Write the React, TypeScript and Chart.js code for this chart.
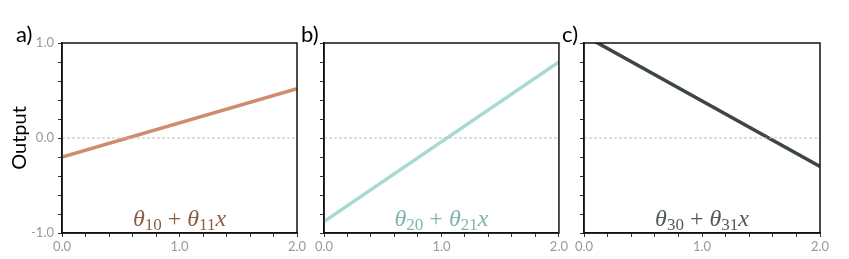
import React, { useEffect, useRef } from 'react';
import { Chart, registerables } from 'chart.js';
Chart.register(...registerables);

const xValues = [0, 2];
const seriesA = [-0.2, 0.52];
const seriesB = [-0.88, 0.8];
const seriesC = [1.08, -0.3];
const zeroLine = [0, 0];
const panelLabels = ['a)', 'b)', 'c)'];
const equationIndices = [
  ['10', '11'],
  ['20', '21'],
  ['30', '31'],
];
const xTickLabels = ['0.0', '1.0', '2.0'];
const yTickLabels = ['-1.0', '0.0', '1.0'];
const yAxisTitle = 'Output';

const panels = [
  { series: seriesA, lineColor: '#d08a6c', textColor: '#8e5c46', left: 0, width: 310, padRight: 13, yWidth: 62, labelX: 16, showY: true },
  { series: seriesB, lineColor: '#a9d9d4', textColor: '#7fb5af', left: 290, width: 280, padRight: 11, yWidth: 34, labelX: 301, showY: false },
  { series: seriesC, lineColor: '#3e4549', textColor: '#52595d', left: 550, width: 299, padRight: 29, yWidth: 34, labelX: 562, showY: false },
];

const H = 259;
const TICK_FONT = { family: 'Lato', size: 13 };
const TICK_COLOR = '#999999';
const SERIF = '"Liberation Serif"';

const decorPlugin = {
  id: 'decor',
  afterDraw(chart: any, _args: any, opts: any) {
    const { ctx, chartArea } = chart;
    const { left, right, top, bottom } = chartArea;
    ctx.save();
    ctx.strokeStyle = '#111';
    ctx.lineWidth = 1.5;
    ctx.strokeRect(left, top, right - left, bottom - top);
    const subs = opts.subs as string[];
    const big = `24px ${SERIF}`;
    const bigI = `italic 24px ${SERIF}`;
    const small = `17px ${SERIF}`;
    const pieces = [
      { t: 'θ', f: bigI, dy: 0 },
      { t: subs[0], f: small, dy: 4 },
      { t: ' + ', f: big, dy: 0 },
      { t: 'θ', f: bigI, dy: 0 },
      { t: subs[1], f: small, dy: 4 },
      { t: 'x', f: bigI, dy: 0 },
    ];
    let total = 0;
    const widths = pieces.map((p) => {
      ctx.font = p.f;
      const w = ctx.measureText(p.t).width;
      total += w;
      return w;
    });
    let x = (left + right) / 2 - total / 2;
    const baseY = bottom - 7;
    ctx.fillStyle = opts.textColor;
    ctx.textBaseline = 'alphabetic';
    ctx.textAlign = 'left';
    pieces.forEach((p, i) => {
      ctx.font = p.f;
      ctx.fillText(p.t, x, baseY + p.dy);
      x += widths[i];
    });
    ctx.fillStyle = '#000';
    ctx.font = '22px Lato';
    ctx.fillText(opts.label, opts.labelX, 42);
    ctx.restore();
  },
};

function labelFor(v: number, labels: string[], offset: number) {
  const k = Math.round(v);
  if (Math.abs(v - k) < 1e-6) {
    const s = labels[k + offset];
    return s === undefined ? '' : s;
  }
  return '';
}

function Panel({ idx }: { idx: number }) {
  const ref = useRef<HTMLCanvasElement | null>(null);
  const p = panels[idx];
  useEffect(() => {
    let chart: any = null;
    let cancelled = false;
    const fontsReady = Promise.all([
      document.fonts.load(`italic 24px ${SERIF}`),
      document.fonts.load(`17px ${SERIF}`),
      document.fonts.load('22px Lato'),
      document.fonts.load('13px Lato'),
    ]).catch(() => null);
    fontsReady.then(() => {
      if (cancelled || !ref.current) return;
      chart = new Chart(ref.current, {
        type: 'line',
        data: {
          datasets: [
            {
              data: xValues.map((x, i) => ({ x, y: zeroLine[i] })),
              borderColor: '#bdbdbd',
              borderWidth: 1,
              borderDash: [3, 2],
              pointRadius: 0,
            },
            {
              data: xValues.map((x, i) => ({ x, y: p.series[i] })),
              borderColor: p.lineColor,
              borderWidth: 3.5,
              pointRadius: 0,
              borderCapStyle: 'butt',
            },
          ],
        },
        options: {
          animation: false,
          responsive: false,
          devicePixelRatio: 1,
          layout: { padding: { top: 43, right: p.padRight, left: 0, bottom: 0 } },
          plugins: {
            legend: { display: false },
            tooltip: { enabled: false },
            decor: { subs: equationIndices[idx], textColor: p.textColor, label: panelLabels[idx], labelX: p.labelX - p.left },
          } as any,
          scales: {
            x: {
              type: 'linear',
              min: 0,
              max: 2,
              ticks: {
                stepSize: 0.2,
                autoSkip: false,
                maxRotation: 0,
                padding: 2,
                font: TICK_FONT,
                color: TICK_COLOR,
                callback: (v: any) => labelFor(Number(v), xTickLabels, 0),
              },
              grid: { display: true, drawOnChartArea: false, drawTicks: true, tickLength: 4, color: '#333', lineWidth: 1 },
              border: { display: true, color: '#111', width: 1.5 },
              afterFit: (s: any) => { s.height = H - 233; },
            },
            y: {
              type: 'linear',
              min: -1,
              max: 1,
              ticks: {
                stepSize: 0.2,
                autoSkip: false,
                padding: 4,
                font: TICK_FONT,
                color: TICK_COLOR,
                callback: (v: any) => (p.showY ? labelFor(Number(v), yTickLabels, 1) : ''),
              },
              title: {
                display: p.showY,
                text: yAxisTitle,
                color: '#000',
                font: { family: 'Lato', size: 20 },
                padding: { top: 8, bottom: 0 },
              },
              grid: { display: true, drawOnChartArea: false, drawTicks: true, tickLength: 4, color: '#333', lineWidth: 1 },
              border: { display: true, color: '#111', width: 1.5 },
              afterFit: (s: any) => { s.width = p.yWidth; },
            },
          },
        } as any,
        plugins: [decorPlugin],
      });
    });
    return () => {
      cancelled = true;
      if (chart) chart.destroy();
    };
  }, [idx]);
  return (
    <div style={{ position: 'absolute', left: p.left, top: 0, width: p.width, height: H }}>
      <canvas ref={ref} width={p.width} height={H} style={{ width: p.width, height: H, display: 'block' }} />
    </div>
  );
}

export default function App() {
  return (
    <div style={{ position: 'absolute', left: 0, top: 0, width: 849, height: H, overflow: 'hidden', background: '#fff' }}>
      {panels.map((_, i) => (
        <Panel key={i} idx={i} />
      ))}
    </div>
  );
}
